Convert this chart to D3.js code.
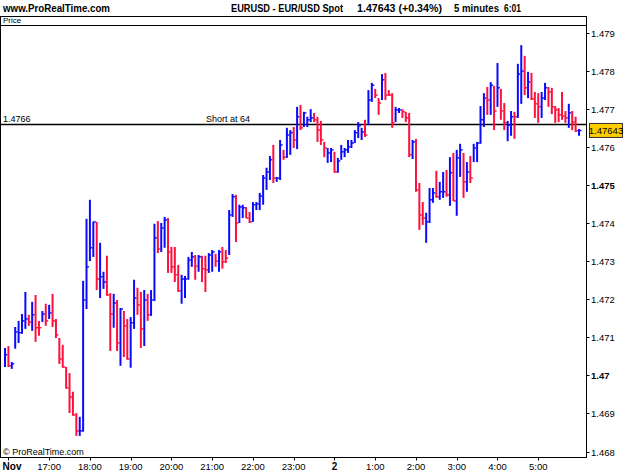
<!DOCTYPE html>
<html><head><meta charset="utf-8">
<script src="https://cdn.jsdelivr.net/npm/d3@7/dist/d3.min.js"></script>
<style>
body{margin:0;background:#fff}
svg{display:block}
text{font-family:"Liberation Sans",Arial,sans-serif;fill:#000}
</style>
</head><body>
<svg id="chart" width="625" height="472"></svg>
<script>
// ---- data (5-minute bars, EUR/USD) ----
const highs = [1.47072,1.47077,1.47035,1.47127,1.47143,1.47161,1.47219,1.47159,1.47193,1.47211,
1.47143,1.47169,1.47188,1.47185,1.47214,1.47148,1.47098,1.47080,1.47022,1.47006,
1.46957,1.46901,1.46891,1.47248,1.47411,1.47461,1.47403,1.47403,1.47348,1.47272,
1.47314,1.47216,1.47214,1.47198,1.47177,1.47169,1.47148,1.47153,1.47251,1.47230,
1.47219,1.47224,1.47214,1.47224,1.47398,1.47405,1.47400,1.47416,1.47413,1.47337,
1.47337,1.47290,1.47264,1.47261,1.47311,1.47324,1.47316,1.47316,1.47314,1.47314,
1.47321,1.47329,1.47319,1.47329,1.47337,1.47329,1.47434,1.47476,1.47474,1.47448,
1.47448,1.47442,1.47429,1.47455,1.47455,1.47479,1.47526,1.47545,1.47576,1.47605,
1.47521,1.47618,1.47592,1.47650,1.47644,1.47652,1.47705,1.47710,1.47692,1.47679,
1.47699,1.47689,1.47679,1.47668,1.47613,1.47597,1.47597,1.47587,1.47571,1.47605,
1.47597,1.47618,1.47618,1.47644,1.47665,1.47650,1.47671,1.47749,1.47768,1.47752,
1.47728,1.47791,1.47794,1.47749,1.47741,1.47705,1.47702,1.47699,1.47692,1.47689,
1.47618,1.47621,1.47505,1.47455,1.47427,1.47492,1.47492,1.47537,1.47508,1.47534,
1.47539,1.47573,1.47584,1.47592,1.47608,1.47584,1.47560,1.47576,1.47608,1.47613,
1.47707,1.47741,1.47757,1.47770,1.47760,1.47820,1.47752,1.47715,1.47668,1.47694,
1.47692,1.47818,1.47867,1.47839,1.47797,1.47794,1.47744,1.47741,1.47744,1.47768,
1.47757,1.47755,1.47707,1.47702,1.47744,1.47694,1.47713,1.47694,1.47679,1.47647];
const lows = [1.47022,1.47022,1.47017,1.47070,1.47085,1.47109,1.47122,1.47130,1.47117,1.47088,
1.47104,1.47140,1.47130,1.47148,1.47127,1.47098,1.47030,1.47020,1.46965,1.46901,
1.46894,1.46841,1.46841,1.46852,1.47174,1.47300,1.47311,1.47224,1.47203,1.47227,
1.47209,1.47064,1.47125,1.47064,1.47025,1.47048,1.47041,1.47020,1.47122,1.47159,
1.47072,1.47077,1.47143,1.47156,1.47195,1.47321,1.47324,1.47335,1.47269,1.47269,
1.47245,1.47219,1.47188,1.47203,1.47251,1.47285,1.47251,1.47272,1.47245,1.47219,
1.47269,1.47272,1.47285,1.47272,1.47280,1.47295,1.47316,1.47416,1.47350,1.47400,
1.47413,1.47413,1.47400,1.47403,1.47434,1.47434,1.47448,1.47487,1.47513,1.47505,
1.47508,1.47513,1.47566,1.47571,1.47579,1.47597,1.47594,1.47644,1.47652,1.47652,
1.47665,1.47665,1.47613,1.47605,1.47573,1.47558,1.47560,1.47532,1.47532,1.47566,
1.47573,1.47584,1.47597,1.47610,1.47623,1.47618,1.47626,1.47657,1.47718,1.47728,
1.47684,1.47723,1.47723,1.47734,1.47650,1.47665,1.47689,1.47676,1.47665,1.47573,
1.47568,1.47482,1.47382,1.47395,1.47348,1.47400,1.47453,1.47466,1.47461,1.47466,
1.47469,1.47445,1.47458,1.47419,1.47521,1.47466,1.47482,1.47505,1.47560,1.47560,
1.47608,1.47652,1.47684,1.47684,1.47644,1.47705,1.47671,1.47644,1.47615,1.47629,
1.47621,1.47676,1.47713,1.47736,1.47728,1.47723,1.47676,1.47663,1.47676,1.47723,
1.47705,1.47686,1.47663,1.47665,1.47671,1.47663,1.47650,1.47644,1.47639,1.47629];
const closes = [1.47054,1.47025,1.47030,1.47114,1.47112,1.47143,1.47148,1.47140,1.47159,1.47125,
1.47125,1.47161,1.47143,1.47164,1.47143,1.47106,1.47043,1.47022,1.46967,1.46943,
1.46896,1.46854,1.46854,1.47198,1.47285,1.47335,1.47403,1.47253,1.47259,1.47245,
1.47211,1.47161,1.47190,1.47085,1.47174,1.47130,1.47043,1.47138,1.47203,1.47185,
1.47122,1.47198,1.47159,1.47198,1.47361,1.47332,1.47387,1.47408,1.47324,1.47285,
1.47264,1.47222,1.47253,1.47253,1.47303,1.47311,1.47287,1.47311,1.47280,1.47277,
1.47316,1.47324,1.47300,1.47324,1.47298,1.47308,1.47421,1.47469,1.47400,1.47442,
1.47440,1.47413,1.47403,1.47448,1.47450,1.47471,1.47518,1.47534,1.47566,1.47518,
1.47518,1.47605,1.47573,1.47631,1.47637,1.47618,1.47679,1.47650,1.47689,1.47671,
1.47676,1.47671,1.47644,1.47618,1.47597,1.47584,1.47592,1.47534,1.47563,1.47587,
1.47592,1.47600,1.47610,1.47637,1.47655,1.47639,1.47631,1.47723,1.47762,1.47736,
1.47715,1.47776,1.47736,1.47736,1.47663,1.47697,1.47697,1.47692,1.47676,1.47579,
1.47613,1.47487,1.47421,1.47413,1.47403,1.47461,1.47479,1.47469,1.47482,1.47482,
1.47474,1.47532,1.47458,1.47571,1.47592,1.47508,1.47534,1.47518,1.47597,1.47610,
1.47671,1.47728,1.47723,1.47762,1.47694,1.47755,1.47694,1.47663,1.47657,1.47679,
1.47679,1.47791,1.47799,1.47755,1.47770,1.47726,1.47713,1.47705,1.47728,1.47755,
1.47744,1.47705,1.47697,1.47684,1.47681,1.47676,1.47689,1.47665,1.47642,1.47643];
// U = up bar (blue), D = down bar (red)
const directions = ("UDUUUUUDUD" + "DUDUDDDDDD" + "DDUUUUUDUU" + "DDUDUDDUUD" +
  "DUDUUDUUDD" + "DDUUUUDUDD" + "UUDUDDUUDU" + "UDDUUUUUUD" +
  "UUDUUDUDUU" + "UDDDDUUDUU" + "UUUUUUDUUD" + "DUDDDUUDDD" +
  "UDDDUUUDUU" + "DUDUUDUDUU" + "UUDUDUDDUU" + "DUUDUDDDUU" + "DDDDDDUDDU").split("");

const firstBar = new Date(2007, 10, 1, 15, 55);
const barMinutes = 5;

const yTickValues = [1.468,1.469,1.47,1.471,1.472,1.473,1.474,1.475,1.476,1.477,1.478,1.479];
const yBoldTicks = [1.47, 1.475];
const xTickTimes = [
  new Date(2007,10,1,16,0), new Date(2007,10,1,17,0), new Date(2007,10,1,18,0),
  new Date(2007,10,1,19,0), new Date(2007,10,1,20,0), new Date(2007,10,1,21,0),
  new Date(2007,10,1,22,0), new Date(2007,10,1,23,0), new Date(2007,10,2,0,0),
  new Date(2007,10,2,1,0), new Date(2007,10,2,2,0), new Date(2007,10,2,3,0),
  new Date(2007,10,2,4,0), new Date(2007,10,2,5,0)];
const xTickLabels = ["Nov","17:00","18:00","19:00","20:00","21:00","22:00","23:00","2","1:00","2:00","3:00","4:00","5:00"];
const xBoldLabels = ["Nov","2"];

const lastPrice = 1.47643;
const levelPrice = 1.4766;
const levelLabel = "1.4766";
const levelNote = "Short at 64";
const siteLabel = "www.ProRealTime.com";
const titleParts = ["EURUSD - EUR/USD Spot", "1.47643 (+0.34%)", "5 minutes", "6:01"];
const panelLabel = "Price";
const copyright = "\u00A9 ProRealTime.com";

// ---- layout ----
const frameL = 0.5, frameR = 586.5, headerTop = 16.5, plotTop = 25.5, plotBottom = 457.5;
const upColor = "#0a0aff", downColor = "#ff0f3c";

const svg = d3.select("#chart");
const times = highs.map((_, i) => new Date(firstBar.getTime() + i * barMinutes * 60000));
const x = d3.scaleTime().domain([times[0], times[times.length - 1]]).range([5, 579]);
const y = d3.scaleLinear().domain([1.468, 1.479]).range([451.5, 32.6]);

// header texts (condensed to the reference widths)
svg.append("text").attr("x", 3).attr("y", 12).attr("font-size", 11).attr("font-weight", "bold")
  .attr("textLength", 107).attr("lengthAdjust", "spacingAndGlyphs").text(siteLabel);
const titleX = [231, 357, 454, 504];
const titleW = [112, 85, 45, 17];
titleParts.forEach((t, i) => svg.append("text").attr("x", titleX[i]).attr("y", 12)
  .attr("font-size", 11).attr("font-weight", "bold")
  .attr("textLength", titleW[i]).attr("lengthAdjust", "spacingAndGlyphs").text(t));

// frame
const g = svg.append("g");
g.append("rect").attr("x", frameL).attr("y", headerTop).attr("width", frameR - frameL)
  .attr("height", plotBottom - headerTop).attr("fill", "none").attr("stroke", "#000").attr("stroke-width", 1);
g.append("line").attr("x1", frameL).attr("x2", frameR).attr("y1", plotTop).attr("y2", plotTop).attr("stroke", "#000");
g.append("text").attr("x", 3).attr("y", 23).attr("font-size", 8).text(panelLabel);

// right axis
const yAxis = svg.append("g");
yTickValues.forEach(v => {
  const yy = Math.round(y(v)) + 0.5;
  yAxis.append("line").attr("x1", frameR).attr("x2", frameR + 3).attr("y1", yy).attr("y2", yy).attr("stroke", "#000");
  yAxis.append("text").attr("x", 591).attr("y", yy).attr("dy", "0.35em").attr("font-size", 9.5)
    .attr("font-weight", yBoldTicks.includes(v) ? "bold" : "normal").text(d3.format("")(v));
});

// bottom axis
const xAxis = svg.append("g");
xTickTimes.forEach((t, i) => {
  const xx = x(t);
  xAxis.append("line").attr("x1", Math.round(xx) + 0.5).attr("x2", Math.round(xx) + 0.5)
    .attr("y1", plotBottom).attr("y2", plotBottom + 3).attr("stroke", "#000");
  const bold = xBoldLabels.includes(xTickLabels[i]);
  xAxis.append("text").attr("x", i === 0 ? Math.max(xx, 12) : xx).attr("y", 470)
    .attr("text-anchor", "middle").attr("font-size", bold ? 10 : 9.5)
    .attr("font-weight", bold ? "bold" : "normal").text(xTickLabels[i]);
});

// level line
const ly = Math.round(y(levelPrice)) + 0.5;
svg.append("line").attr("x1", frameL).attr("x2", frameR).attr("y1", ly).attr("y2", ly)
  .attr("stroke", "#000").attr("stroke-width", 1.5);
svg.append("text").attr("x", 3).attr("y", ly - 3).attr("font-size", 9).text(levelLabel);
svg.append("text").attr("x", 206).attr("y", ly - 3).attr("font-size", 9).text(levelNote);

// bars
const bars = svg.append("g");
highs.forEach((h, i) => {
  const col = directions[i] === "U" ? upColor : downColor;
  const xx = x(times[i]);
  bars.append("line").attr("x1", xx).attr("x2", xx).attr("y1", y(h)).attr("y2", y(lows[i]))
    .attr("stroke", col).attr("stroke-width", 2);
  bars.append("line").attr("x1", xx).attr("x2", xx + 2.5).attr("y1", y(closes[i])).attr("y2", y(closes[i]))
    .attr("stroke", col).attr("stroke-width", 1.4);
});

// copyright
svg.append("text").attr("x", 3).attr("y", 455).attr("font-size", 9).text(copyright);

// last price box
const by = y(lastPrice);
svg.append("rect").attr("x", 589.5).attr("y", by - 7).attr("width", 33).attr("height", 14)
  .attr("fill", "#ffcc00").attr("stroke", "#333").attr("stroke-width", 1);
svg.append("text").attr("x", 606).attr("y", by).attr("dy", "0.35em").attr("text-anchor", "middle")
  .attr("font-size", 9.5).text(d3.format(".5f")(lastPrice));
</script>
</body></html>
